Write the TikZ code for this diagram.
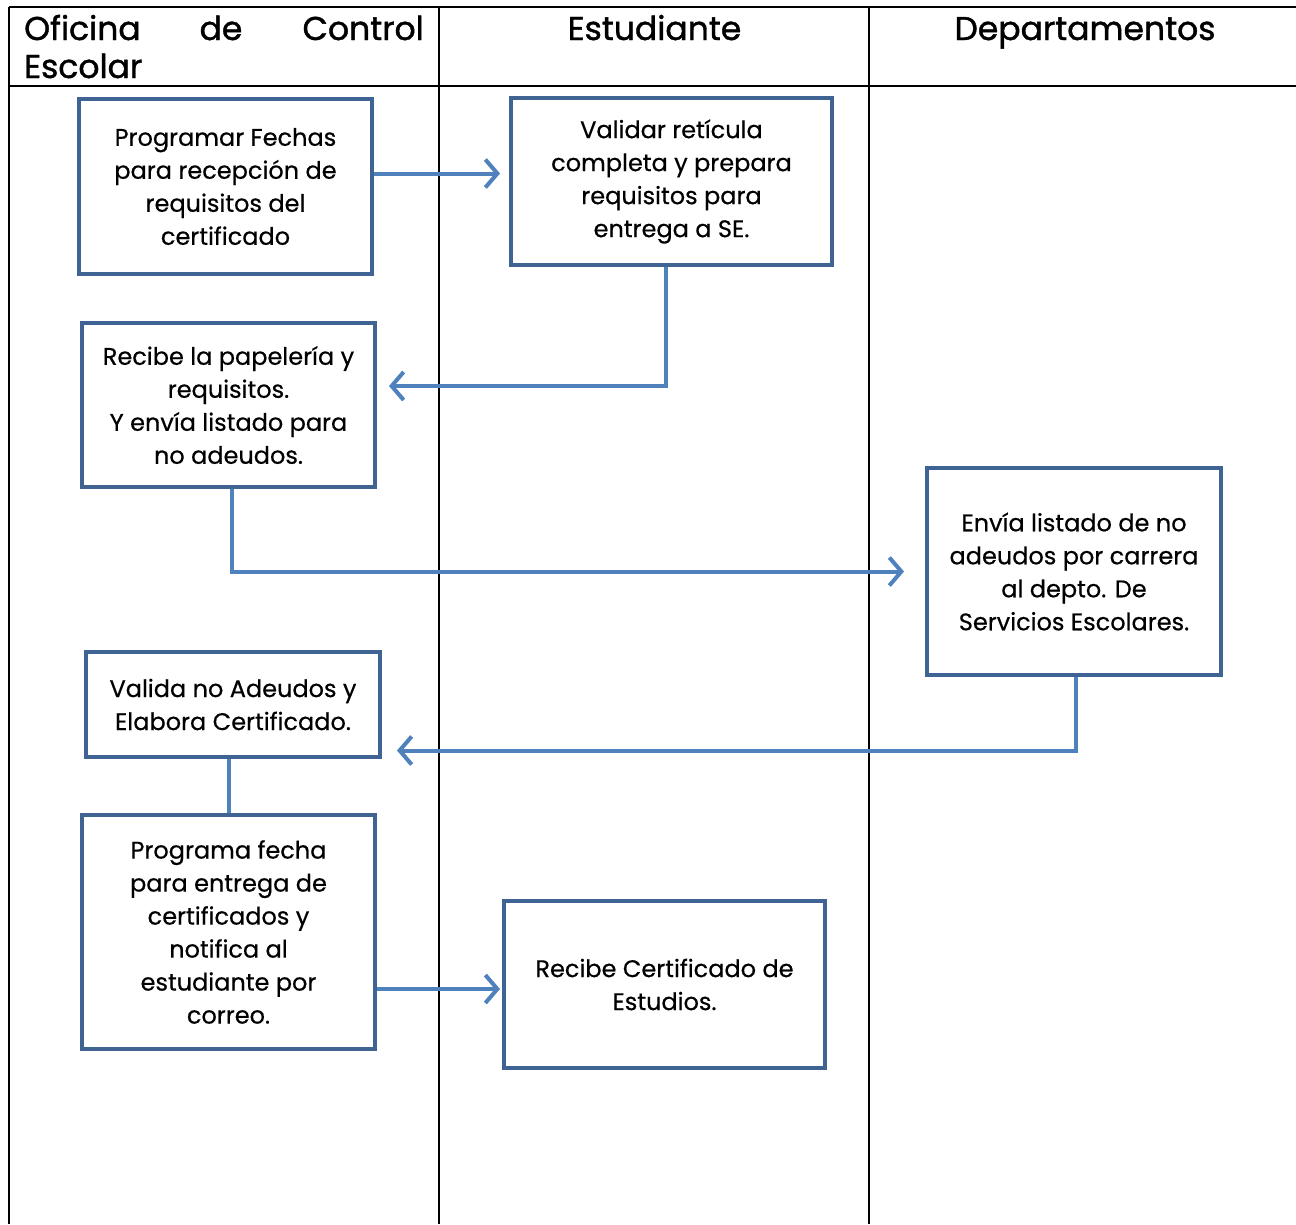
\documentclass[tikz,border=0pt]{standalone}
\usepackage{fontspec}
\setmainfont{Poppins}
\newfontfamily\headfont{Poppins}[UprightFeatures={FakeBold=1.2}]
\newfontfamily\boxfont{Poppins}[UprightFeatures={FakeBold=0.5}]
\usetikzlibrary{arrows.meta}
\definecolor{boxc}{HTML}{3F6393}
\definecolor{arrc}{HTML}{4F81BD}
\begin{document}
\begin{tikzpicture}[x=1pt,y=-1pt,
  stepbox/.style={draw=boxc, line width=4pt, fill=white, align=center, inner sep=0pt,
    font=\boxfont\fontsize{24}{33}\selectfont},
  head/.style={inner sep=0pt, font=\headfont\fontsize{33}{38}\selectfont},
  flow/.style={draw=arrc, line width=4pt},
  arr/.style={flow, -{Straight Barb[length=12pt,width=28pt,line width=4pt]}},
  grid/.style={draw=black, line width=1.5pt}]
\useasboundingbox (0,0) rectangle (1296,1224);
\fill[white] (0,0) rectangle (1296,1224);
% table
\draw[grid] (9,7) -- (1296,7);
\draw[grid] (9,86) -- (1296,86);
\draw[grid] (9,7) -- (9,1224);
\draw[grid] (439,7) -- (439,1224);
\draw[grid] (869,7) -- (869,1224);
% headers
\node[head, anchor=base west] (h1a) at (24,40) {Oficina};
\node[head, anchor=base] (h1b) at (221,40) {de};
\node[head, anchor=base east] (h1c) at (424,40) {Control};
\node[head, anchor=base west] (h1d) at (24,78) {Escolar};
\node[head, anchor=base] (h2) at (654.5,40) {Estudiante};
\node[head, anchor=base] (h3) at (1085,40) {Departamentos};
% boxes
\node[stepbox, minimum width=293pt, minimum height=175pt] (b1) at (225.5,186.5)
  {Programar Fechas\\para recepción de\\requisitos del\\certificado};
\node[stepbox, minimum width=321pt, minimum height=167pt] (b2) at (671.5,181.5)
  {Validar retícula\\completa y prepara\\requisitos para\\entrega a SE.};
\node[stepbox, minimum width=293pt, minimum height=164pt] (b3) at (228.5,405)
  {Recibe la papelería y\\requisitos.\\Y envía listado para\\no adeudos.};
\node[stepbox, minimum width=294pt, minimum height=207pt] (b4) at (1074,571.5)
  {Envía listado de no\\adeudos por carrera\\al depto. De\\Servicios Escolares.};
\node[stepbox, minimum width=294pt, minimum height=105pt] (b5) at (233,704.5)
  {Valida no Adeudos y\\Elabora Certificado.};
\node[stepbox, minimum width=293pt, minimum height=234pt] (b6) at (228.5,932)
  {Programa fecha\\para entrega de\\certificados y\\notifica al\\estudiante por\\correo.};
\node[stepbox, minimum width=321pt, minimum height=167pt] (b7) at (664.5,984.5)
  {Recibe Certificado de\\Estudios.};
% connectors
\draw[arr, shorten >=9pt] ([yshift=13pt]b1.east) -- ([yshift=13pt]b1.east -| b2.west);
\draw[arr, shorten >=12pt] ([xshift=-6pt]b2.south) |- ([yshift=19pt]b3.east);
\draw[arr, shorten >=21pt] ([xshift=3pt]b3.south) |- (b4.west);
\draw[arr, shorten >=15pt] ([xshift=2pt]b4.south) |- ([yshift=-46pt]b5.east);
\draw[flow] (b6.north |- b5.south) -- (b6.north);
\draw[arr, shorten >=2pt] ([yshift=-57pt]b6.east) -- ([yshift=-57pt]b6.east -| b7.west);
\end{tikzpicture}
\end{document}
